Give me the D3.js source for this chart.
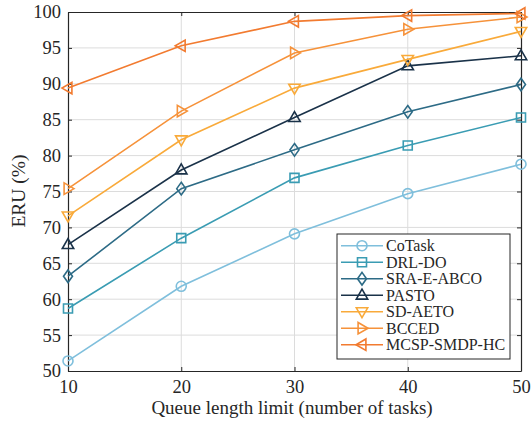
<!DOCTYPE html>
<html><head><meta charset="utf-8">
<script src="https://cdn.jsdelivr.net/npm/d3@7"></script>
<style>body{margin:0;background:#fff}svg{display:block}text{font-family:"Liberation Serif","Times New Roman",serif;fill:#262626}</style>
</head><body><svg id="c" width="531" height="423"></svg>
<script>
const xValues = [10, 20, 30, 40, 50];
const seriesNames = ["CoTask", "DRL-DO", "SRA-E-ABCO", "PASTO", "SD-AETO", "BCCED", "MCSP-SMDP-HC"];
const coTask = [51.4, 61.8, 69.1, 74.7, 78.8];
const drlDo = [58.7, 68.5, 76.9, 81.4, 85.3];
const sraEAbco = [63.2, 75.4, 80.8, 86.1, 89.9];
const pasto = [67.6, 78.0, 85.3, 92.5, 93.9];
const sdAeto = [71.6, 82.2, 89.4, 93.4, 97.3];
const bcced = [75.4, 86.2, 94.3, 97.6, 99.3];
const mcsp = [89.4, 95.3, 98.7, 99.5, 99.8];
const xTicks = [10, 20, 30, 40, 50];
const yTicks = [50, 55, 60, 65, 70, 75, 80, 85, 90, 95, 100];
const colors = ["#7fbfdc", "#3a9cb3", "#2d6b86", "#1a3249", "#f9aa3a", "#f6923a", "#f27b30"];
const markers = ["circle", "square", "diamond", "up", "down", "right", "left"];
const allSeries = [coTask, drlDo, sraEAbco, pasto, sdAeto, bcced, mcsp];

const svg = d3.select("#c");
const L = 68, R = 521, T = 12, B = 371;
const x = d3.scaleLinear().domain([10, 50]).range([L, R]);
const y = d3.scaleLinear().domain([50, 100]).range([B, T]);

// grid
svg.append("g").selectAll("line").data(xTicks.slice(1, -1)).join("line")
  .attr("x1", d => x(d)).attr("x2", d => x(d)).attr("y1", T).attr("y2", B)
  .attr("stroke", "#dcdcdc").attr("stroke-width", 1);
svg.append("g").selectAll("line").data(yTicks.slice(1, -1)).join("line")
  .attr("y1", d => y(d)).attr("y2", d => y(d)).attr("x1", L).attr("x2", R)
  .attr("stroke", "#dcdcdc").attr("stroke-width", 1);

// axes
const ax = svg.append("g").attr("transform", `translate(0,${B})`)
  .call(d3.axisBottom(x).tickValues(xTicks).tickSizeInner(-4).tickSizeOuter(0).tickPadding(9));
const ay = svg.append("g").attr("transform", `translate(${L},0)`)
  .call(d3.axisLeft(y).tickValues(yTicks).tickSizeInner(-4).tickSizeOuter(0).tickPadding(7));
const axT = svg.append("g").attr("transform", `translate(0,${T})`)
  .call(d3.axisTop(x).tickValues(xTicks).tickSizeInner(-4).tickSizeOuter(0).tickFormat(""));
const ayR = svg.append("g").attr("transform", `translate(${R},0)`)
  .call(d3.axisRight(y).tickValues(yTicks).tickSizeInner(-4).tickSizeOuter(0).tickFormat(""));
[ax, ay, axT, ayR].forEach(g => {
  g.select(".domain").attr("stroke", "#262626").attr("stroke-width", 1.2);
  g.selectAll(".tick line").attr("stroke", "#262626");
  g.selectAll("text").style("font-size", "18.5px").attr("fill", "#262626");
});

function markerPath(type, s) {
  switch (type) {
    case "square": return `M${-s*0.75},${-s*0.75}h${s*1.5}v${s*1.5}h${-s*1.5}z`;
    case "diamond": return `M0,${-s*1.05}L${s*0.75},0L0,${s*1.05}L${-s*0.75},0z`;
    case "up": return `M0,${-s}L${s*0.95},${s*0.65}L${-s*0.95},${s*0.65}z`;
    case "down": return `M0,${s}L${s*0.95},${-s*0.65}L${-s*0.95},${-s*0.65}z`;
    case "right": return `M${s},0L${-s*0.65},${s*0.95}L${-s*0.65},${-s*0.95}z`;
    case "left": return `M${-s},0L${s*0.65},${s*0.95}L${s*0.65},${-s*0.95}z`;
  }
}
function drawMarker(g, type, cx, cy, color) {
  if (type === "circle") {
    g.append("circle").attr("cx", cx).attr("cy", cy).attr("r", 5)
      .attr("fill", "none").attr("stroke", color).attr("stroke-width", 1.6);
  } else {
    g.append("path").attr("transform", `translate(${cx},${cy})`).attr("d", markerPath(type, 6))
      .attr("fill", "none").attr("stroke", color).attr("stroke-width", 1.6);
  }
}

const line = d3.line().x((d, i) => x(xValues[i])).y(d => y(d));
allSeries.forEach((vals, k) => {
  const g = svg.append("g");
  g.append("path").datum(vals).attr("d", line).attr("fill", "none")
    .attr("stroke", colors[k]).attr("stroke-width", 1.6);
  vals.forEach((v, i) => drawMarker(g, markers[k], x(xValues[i]), y(v), colors[k]));
});

// legend
const lg = svg.append("g");
lg.append("rect").attr("x", 337).attr("y", 234).attr("width", 173).attr("height", 125)
  .attr("fill", "#fff").attr("stroke", "#262626").attr("stroke-width", 1);
seriesNames.forEach((n, k) => {
  const yy = 245.7 + k * 16.5;
  lg.append("line").attr("x1", 341).attr("x2", 383).attr("y1", yy).attr("y2", yy)
    .attr("stroke", colors[k]).attr("stroke-width", 1.6);
  drawMarker(lg, markers[k], 362, yy, colors[k]);
  lg.append("text").attr("x", 386).attr("y", yy).attr("dy", "0.35em")
    .style("font-size", "16px").text(n);
});

svg.append("text").attr("x", 292).attr("y", 414).attr("text-anchor", "middle")
  .style("font-size", "19px").text("Queue length limit (number of tasks)");
svg.append("text").attr("transform", "translate(25,191) rotate(-90)").attr("text-anchor", "middle")
  .style("font-size", "19.5px").text("ERU (%)");
</script></body></html>
